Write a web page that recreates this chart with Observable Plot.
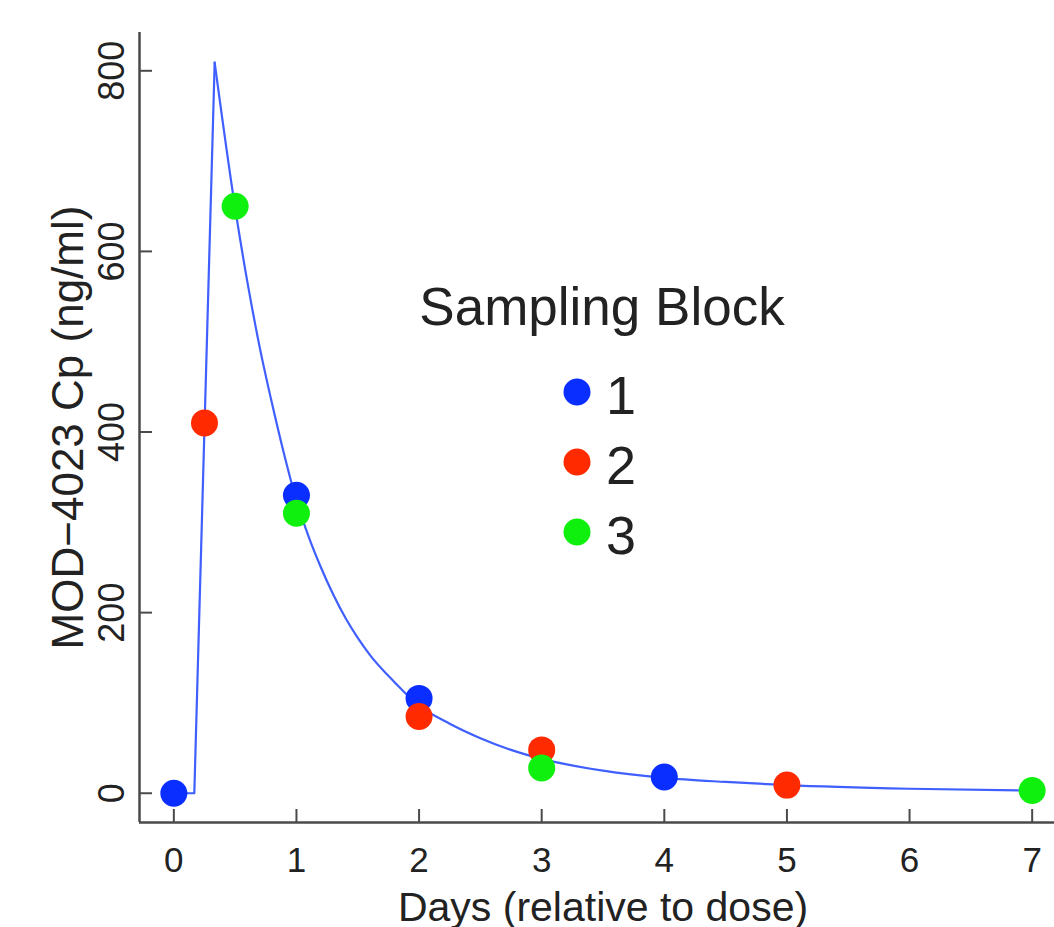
<!DOCTYPE html>
<html>
<head>
<meta charset="utf-8">
<script src="https://cdn.jsdelivr.net/npm/d3@7"></script>
<script src="https://cdn.jsdelivr.net/npm/@observablehq/plot@0.6"></script>
<style>
  html, body { margin: 0; padding: 0; background: #fff; overflow: hidden; }
  #chart { width: 1054px; height: 927px; }
</style>
</head>
<body>
<div id="chart"></div>
<script>
// ---- data ----
const blocks = ["1", "2", "3"];
const blockColors = ["#0a2eff", "#ff2a00", "#0ff00f"];

const block1Days = [0, 1, 2, 4];
const block1Cp   = [0, 330, 105, 18];
const block2Days = [0.25, 2, 3, 5];
const block2Cp   = [410, 85, 48, 9];
const block3Days = [0.5, 1, 3, 7];
const block3Cp   = [650, 310, 28, 3];

// fitted profile: absorption (lag + rise) and decay
const riseDays = [0, 0.167, 0.333];
const riseCp   = [0, 0, 809];
const decayDays = [0.333, 0.5, 0.6, 0.7, 0.8, 0.9, 1.0, 1.1, 1.2, 1.3, 1.4, 1.5, 1.6, 1.8, 2.0, 2.25, 2.5, 2.75, 3.0, 3.5, 4.0, 4.5, 5.0, 6.0, 7.0];
const decayCp   = [809, 648, 566, 494, 432, 375, 324, 284, 250, 220, 194, 172, 153, 123, 97, 77, 61, 48, 38, 25, 17, 12.5, 9, 5, 3];

const xTicks = [0, 1, 2, 3, 4, 5, 6, 7];
const yTicks = [0, 200, 400, 600, 800];
const xTitle = "Days (relative to dose)";
const yTitle = "MOD\u22124023 Cp (ng/ml)";
const legendTitle = "Sampling Block";

// ---- tables built from arrays ----
const points = [
  ...block1Days.map((d, i) => ({day: d, cp: block1Cp[i], block: "1"})),
  ...block2Days.map((d, i) => ({day: d, cp: block2Cp[i], block: "2"})),
  ...block3Days.map((d, i) => ({day: d, cp: block3Cp[i], block: "3"}))
];
const rise = riseDays.map((d, i) => ({day: d, cp: riseCp[i]}));
const decay = decayDays.map((d, i) => ({day: d, cp: decayCp[i]}));

// R-style 4% padding
const xMin = 0, xMax = 7, yMin = 0, yMax = 810;
const xPad = (xMax - xMin) * 0.04, yPad = (yMax - yMin) * 0.04;
const xDomain = [xMin - xPad, xMax + xPad];
const yDomain = [yMin - yPad, yMax + yPad];
const xRange = [139, 1066], yRange = [822, 32];
// inward tick length (13 px) expressed in data units
const tickPx = 13;
const xTickLen = tickPx * (xDomain[1] - xDomain[0]) / (xRange[1] - xRange[0]);
const yTickLen = tickPx * (yDomain[1] - yDomain[0]) / (yRange[0] - yRange[1]);

const font = "'Liberation Sans', Arial, Helvetica, sans-serif";
const lineColor = "#3f5fff";
const axisColor = "#4a4a4a";

const plot = Plot.plot({
  width: 1054,
  height: 927,
  marginLeft: 139,
  marginRight: -12,
  marginTop: 32,
  marginBottom: 105,
  style: {fontFamily: font, background: "#fff", overflow: "hidden"},
  x: {domain: xDomain, range: xRange, axis: null},
  y: {domain: yDomain, range: yRange, axis: null},
  color: {domain: blocks, range: blockColors},
  marks: [
    Plot.ruleX([xDomain[0]], {stroke: axisColor, strokeWidth: 2.5}),
    Plot.ruleY([yDomain[0]], {stroke: axisColor, strokeWidth: 2.5}),
    // inward ticks
    Plot.ruleX(xTicks, {y1: yDomain[0], y2: yDomain[0] + yTickLen, stroke: axisColor, strokeWidth: 2}),
    Plot.ruleY(yTicks, {x1: xDomain[0], x2: xDomain[0] + xTickLen, stroke: axisColor, strokeWidth: 2}),
    // tick labels
    Plot.axisX({ticks: xTicks, tickSize: 0, tickPadding: 25, fontSize: 35, fill: "#222", label: null}),
    Plot.axisY({ticks: yTicks, tickSize: 0, tickPadding: 16, tickRotate: -90, fontSize: 36, fill: "#222", label: null}),
    Plot.text([xTitle], {frameAnchor: "bottom", textAnchor: "middle", lineAnchor: "bottom", dy: 98, fontSize: 41, fill: "#222"}),
    Plot.text([yTitle], {frameAnchor: "left", textAnchor: "middle", lineAnchor: "bottom", rotate: -90, dx: -57, fontSize: 44, fill: "#222"}),
    Plot.line(rise, {x: "day", y: "cp", stroke: lineColor, strokeWidth: 2.2}),
    Plot.line(decay, {x: "day", y: "cp", stroke: lineColor, strokeWidth: 2.2, curve: "monotone-x"}),
    Plot.dot(points, {x: "day", y: "cp", fill: "block", r: 13.5})
  ]
});

document.getElementById("chart").appendChild(plot);

// ---- legend (inside plot area, R-style) ----
const color = plot.scale("color");
const svg = d3.select(plot);
const lg = svg.append("g").attr("font-family", font).attr("fill", "#222");
lg.append("text")
  .attr("x", 602).attr("y", 325)
  .attr("text-anchor", "middle")
  .attr("font-size", 53)
  .text(legendTitle);
blocks.forEach((b, i) => {
  const cy = 392 + i * 70;
  lg.append("circle").attr("cx", 577).attr("cy", cy).attr("r", 13.5).attr("fill", color.apply(b));
  lg.append("text").attr("x", 621).attr("y", cy + 22).attr("font-size", 54).text(b);
});
</script>
</body>
</html>
